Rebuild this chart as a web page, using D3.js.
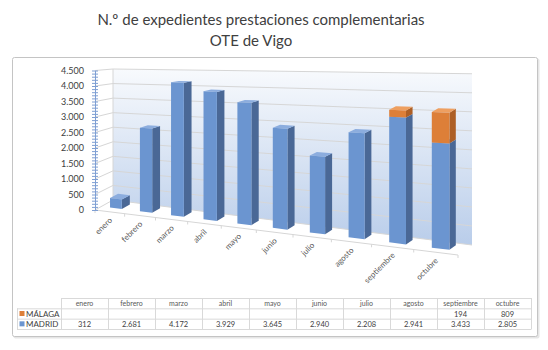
<!DOCTYPE html>
<html lang="es">
<head>
<meta charset="UTF-8">
<title>N.º de expedientes prestaciones complementarias</title>
<script src="https://d3js.org/d3.v7.min.js"></script>
<style>
  body { margin: 0; background: #fff; font-family: Lato, "Open Sans", sans-serif; }
  .title { font-size: 15px; fill: #404040; text-anchor: middle; }
  .grid { stroke: #d6d6d6; stroke-width: 1; fill: none; }
  .ylab text { font-size: 9px; fill: #404040; font-family: Lato, sans-serif; }
  .yaxis path, .yaxis line { stroke: #7f9fd3; }
  .cat { font-size: 8px; fill: #595959; text-anchor: end; }
  .tbl line { stroke: #d9d9d9; stroke-width: 1; }
  .tbl text { font-size: 7.5px; fill: #404040; text-anchor: middle; }
  .tbl .head { fill: #595959; font-size: 7px; }
  .tbl .rowlab { text-anchor: start; font-size: 8px; }
</style>
</head>
<body>
<svg id="chart" width="548" height="350"></svg>
<script>
var months = ["enero", "febrero", "marzo", "abril", "mayo", "junio", "julio", "agosto", "septiembre", "octubre"];
var madrid = [312, 2681, 4172, 3929, 3645, 2940, 2208, 2941, 3433, 2805];
var malaga = [null, null, null, null, null, null, null, null, 194, 809];
var yTicks = [0, 500, 1000, 1500, 2000, 2500, 3000, 3500, 4000, 4500];
var seriesNames = ["MÁLAGA", "MADRID"];

var colors = {
  madrid: { front: "#6b95d0", side: "#4a6896", top: "#8cadde" },
  malaga: { front: "#dd7f38", side: "#ad5f26", top: "#ee9f60" }
};

var fmt = d3.formatLocale({ decimal: ",", thousands: ".", grouping: [3], currency: ["", "€"] }).format(",");

var svg = d3.select("#chart");

// frame
svg.append("rect").attr("x", 13.5).attr("y", 58.5).attr("width", 526).attr("height", 280)
  .attr("rx", 2).attr("fill", "#e6e6e6");
svg.append("rect").attr("x", 12.5).attr("y", 57.5).attr("width", 525).attr("height", 279)
  .attr("rx", 2).attr("fill", "#fff").attr("stroke", "#c4c4c4");

// title
svg.append("text").attr("class", "title").attr("x", 261).attr("y", 25).text("N.º de expedientes prestaciones complementarias");
svg.append("text").attr("class", "title").attr("x", 251).attr("y", 46).text("OTE de Vigo");

// 3D projection: t along categories (0..1), z depth (0 front, 1 back), v value
var band = d3.scaleBand().domain(months).range([0, 1]).paddingInner(0.6).paddingOuter(0.3);
var persp = 0.2;
function sp(t) { return (1 - persp) * t / (1 - persp * t); }
var front = {
  x: d3.scaleLinear().range([95, 458]),
  y: d3.scaleLinear().range([210, 255]),
  h: d3.scaleLinear().domain([0, 4500]).range([0, 139.5]),
  c: 0.19
};
var back = {
  x: d3.scaleLinear().range([113, 472]),
  y: d3.scaleLinear().range([200, 245]),
  h: d3.scaleLinear().domain([0, 4500]).range([0, 131]),
  c: 0.235
};
function proj(t, z, v) {
  var u = sp(t);
  var xf = front.x(u), yf = front.y(u) - front.h(v) / (1 - front.c * t);
  var xb = back.x(u), yb = back.y(u) - back.h(v) / (1 - back.c * t);
  return [xf + (xb - xf) * z, yf + (yb - yf) * z];
}
function poly(pts) { return "M" + pts.map(function(p) { return p.join(","); }).join("L") + "Z"; }

// back wall
var grad = svg.append("defs").append("linearGradient").attr("id", "wall")
  .attr("x1", 0).attr("y1", 0).attr("x2", 0).attr("y2", 1);
grad.append("stop").attr("offset", "0%").attr("stop-color", "#f8fafd");
grad.append("stop").attr("offset", "100%").attr("stop-color", "#b9cdea");

svg.append("path")
  .attr("d", poly([proj(0, 1, 0), proj(1, 1, 0), proj(1, 1, 4500), proj(0, 1, 4500)]))
  .attr("fill", "url(#wall)");

// gridlines on back wall and side wall
yTicks.forEach(function(v) {
  svg.append("path").attr("class", "grid")
    .attr("d", "M" + proj(0, 1, v) + "L" + proj(1, 1, v));
  svg.append("path").attr("class", "grid")
    .attr("d", "M" + proj(0, 0, v) + "L" + proj(0, 1, v));
});
svg.append("path").attr("class", "grid").attr("stroke", "#c9d6ea")
  .attr("d", "M" + proj(0, 1, 0) + "L" + proj(0, 1, 4500));

// floor front edge + category ticks
svg.append("path").attr("class", "grid")
  .attr("d", "M" + proj(0, 0, 0) + "L" + proj(1, 0, 0));
d3.range(0, months.length + 1).forEach(function(k) {
  var p = proj(k / months.length, 0, 0);
  svg.append("line").attr("class", "grid")
    .attr("x1", p[0]).attr("y1", p[1]).attr("x2", p[0]).attr("y2", p[1] + 3);
});

// value axis
var yScale = d3.scaleLinear().domain([0, 4500]).range([proj(0, 0, 0)[1], proj(0, 0, 4500)[1]]);
var ax = svg.append("g").attr("class", "yaxis").attr("transform", "translate(" + proj(0, 0, 0)[0] + ",0)")
  .call(d3.axisLeft(yScale).tickValues(d3.range(0, 4501, 100)).tickSize(3).tickSizeOuter(0).tickFormat(""));
ax.selectAll(".tick line").attr("x2", -3).attr("x1", 3);
svg.append("g").attr("class", "ylab").attr("transform", "translate(" + proj(0, 0, 0)[0] + ",0)")
  .call(d3.axisLeft(yScale).tickValues(yTicks).tickSize(0).tickPadding(11).tickFormat(fmt))
  .call(function(g) { g.select(".domain").remove(); });

// bars
var bw = band.bandwidth();
var z0 = 0.35, z1 = 0.8;
months.forEach(function(m, i) {
  var tL = band(m), tR = tL + bw;
  var segs = [{ a: 0, b: madrid[i], c: colors.madrid }];
  if (malaga[i]) segs.push({ a: madrid[i], b: madrid[i] + malaga[i], c: colors.malaga });
  var g = svg.append("g");
  segs.forEach(function(s) {
    g.append("path").attr("fill", s.c.side)
      .attr("d", poly([proj(tR, z0, s.a), proj(tR, z1, s.a), proj(tR, z1, s.b), proj(tR, z0, s.b)]));
    g.append("path").attr("fill", s.c.top)
      .attr("d", poly([proj(tL, z0, s.b), proj(tR, z0, s.b), proj(tR, z1, s.b), proj(tL, z1, s.b)]));
    g.append("path").attr("fill", s.c.front)
      .attr("d", poly([proj(tL, z0, s.a), proj(tR, z0, s.a), proj(tR, z0, s.b), proj(tL, z0, s.b)]));
  });
  var p = proj(tL + bw / 2, 0, 0);
  svg.append("text").attr("class", "cat")
    .attr("transform", "translate(" + (p[0] + 3) + "," + (p[1] + 9) + ") rotate(-45)")
    .text(m);
});

// data table
var col = d3.scaleBand().domain(months).range([61, 531]);
var rows = d3.scaleBand().domain(["head"].concat(seriesNames)).range([298, 329]);
var tbl = svg.append("g").attr("class", "tbl");
rows.domain().forEach(function(r) {
  var x0 = r === "head" ? 61 : 17;
  tbl.append("line").attr("x1", x0).attr("x2", 531).attr("y1", rows(r) + 0.5).attr("y2", rows(r) + 0.5);
});
tbl.append("line").attr("x1", 17).attr("x2", 531).attr("y1", 329.5).attr("y2", 329.5);
tbl.append("line").attr("x1", 17.5).attr("x2", 17.5).attr("y1", rows("MÁLAGA")).attr("y2", 329.5);
months.forEach(function(m) {
  tbl.append("line").attr("x1", col(m) + 0.5).attr("x2", col(m) + 0.5).attr("y1", 298).attr("y2", 329.5);
});
tbl.append("line").attr("x1", 531.5).attr("x2", 531.5).attr("y1", 298).attr("y2", 329.5);

var rh = rows.bandwidth();
months.forEach(function(m, i) {
  var cx = col(m) + col.bandwidth() / 2;
  tbl.append("text").attr("class", "head").attr("x", cx).attr("y", rows("head") + rh / 2 + 2.5).text(m);
  if (malaga[i] != null)
    tbl.append("text").attr("x", cx).attr("y", rows("MÁLAGA") + rh / 2 + 3).text(fmt(malaga[i]));
  tbl.append("text").attr("x", cx).attr("y", rows("MADRID") + rh / 2 + 3).text(fmt(madrid[i]));
});
[["MÁLAGA", colors.malaga.front], ["MADRID", colors.madrid.front]].forEach(function(d) {
  var y = rows(d[0]) + rh / 2;
  tbl.append("rect").attr("x", 19.5).attr("y", y - 2.5).attr("width", 5).attr("height", 5).attr("fill", d[1]);
  tbl.append("text").attr("class", "rowlab").attr("x", 26).attr("y", y + 3).text(d[0]);
});
</script>
</body>
</html>
